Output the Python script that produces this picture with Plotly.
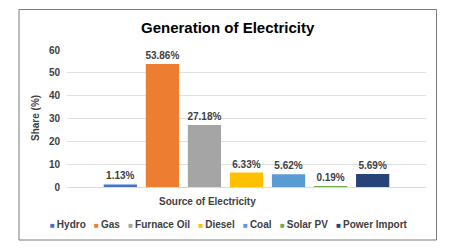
import plotly.graph_objects as go

categories = ["Hydro", "Gas", "Furnace Oil", "Diesel", "Coal", "Solar PV", "Power Import"]
shares = [1.13, 53.86, 27.18, 6.33, 5.62, 0.19, 5.69]
colors = ["#4472C4", "#ED7D31", "#A5A5A5", "#FFC000", "#5B9BD5", "#70AD47", "#264478"]
y_ticks = [0, 10, 20, 30, 40, 50, 60]

FONT = "Liberation Sans, Arial, sans-serif"
TXT = "#404040"

fig = go.Figure()
for name, val, col in zip(categories, shares, colors):
    fig.add_trace(go.Bar(
        x=["Source of Electricity"], y=[val], name=name,
        marker=dict(color=col, line=dict(width=0)),
        texttemplate="%{y:.2f}%", textposition="outside",
        textfont=dict(family=FONT, size=10, color=TXT, weight="bold"),
        constraintext="none",
        cliponaxis=False, showlegend=False,
    ))

# legend built as text line from categories/colors
parts = []
for name, col in zip(categories, colors):
    parts.append(f"<span style='color:{col};font-size:8px'>■</span>\u2009{name}")
legend_text = "\u00a0\u00a0\u00a0".join(parts)

# page body has an 8px margin, so the figure is drawn from (8, 8)
OFF = 8
VW, VH = 449, 249
W, H = VW - OFF, VH - OFF
PL, PR, PT, PB = 67, 426, 50, 187   # plot area in window coords
L, R, T, B = PL - OFF, VW - PR, PT - OFF, VH - PB
pw, ph = PR - PL, PB - PT

def px(x):
    return (x - PL) / pw

def py(y):
    return (PB - y) / ph

fig.update_layout(
    width=W, height=H,
    margin=dict(l=L, r=R, t=T, b=B),
    paper_bgcolor="white", plot_bgcolor="white",
    barmode="group", bargap=0.18, bargroupgap=0.21,
    font=dict(family=FONT, color=TXT),
    xaxis=dict(showticklabels=False, ticks="", showgrid=False,
               showline=True, linecolor="#d9d9d9", linewidth=1, zeroline=False),
    yaxis=dict(range=[0, 60], tickvals=y_ticks, ticks="", showgrid=True,
               gridcolor="#e0e0e0", gridwidth=1, zeroline=False, showline=False,
               tickfont=dict(family=FONT, size=10, color=TXT, weight="bold"),
               ticklabelstandoff=6),
    shapes=[dict(type="rect", xref="paper", yref="paper",
                 x0=px(19), x1=px(436.5), y0=py(240), y1=py(9.5),
                 line=dict(color="#7a7a7a", width=1), fillcolor="rgba(0,0,0,0)", layer="above")],
    annotations=[
        dict(text="Generation of Electricity", xref="paper", yref="paper",
             x=px(228), y=py(28), xanchor="center", yanchor="middle", showarrow=False,
             font=dict(family=FONT, size=15, color="#000000", weight="bold")),
        dict(text="Share (%)", xref="paper", yref="paper", textangle=-90,
             x=px(35), y=py(118), xanchor="center", yanchor="middle", showarrow=False,
             font=dict(family=FONT, size=10, color=TXT, weight="bold")),
        dict(text="Source of Electricity", xref="paper", yref="paper",
             x=px(207), y=py(201), xanchor="center", yanchor="middle", showarrow=False,
             font=dict(family=FONT, size=10, color=TXT, weight="bold")),
        dict(text=legend_text, xref="paper", yref="paper",
             x=px(229), y=py(224), xanchor="center", yanchor="middle", showarrow=False,
             font=dict(family=FONT, size=10, color=TXT, weight="bold")),
    ],
)

fig.write_html("out.html")
